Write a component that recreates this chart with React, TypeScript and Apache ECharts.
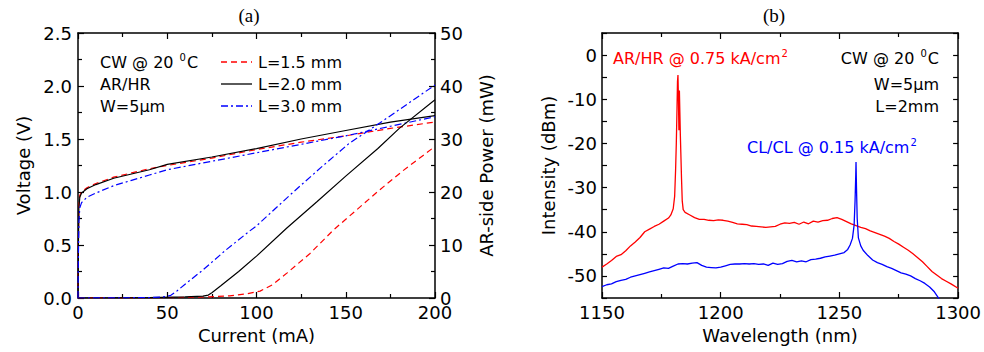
import React, { useEffect, useRef } from 'react';
import * as echarts from 'echarts';

// ---------- Panel (a): L-I-V ----------
const currentV = [0, 0.2, 0.5, 1, 2, 5, 10, 20, 30, 40, 50, 75, 100, 125, 150, 175, 200];
const voltL15 = [0, 0.5, 0.88, 0.97, 1.0, 1.04, 1.08, 1.14, 1.18, 1.22, 1.25, 1.32, 1.4, 1.47, 1.53, 1.6, 1.66];
const voltL20 = [0, 0.45, 0.85, 0.95, 0.99, 1.03, 1.07, 1.13, 1.17, 1.21, 1.26, 1.33, 1.41, 1.5, 1.58, 1.66, 1.72];
const voltL30 = [0, 0.35, 0.72, 0.85, 0.9, 0.95, 0.99, 1.06, 1.11, 1.16, 1.21, 1.29, 1.37, 1.45, 1.53, 1.62, 1.71];

const currentP15 = [0, 50, 73, 85, 95, 102, 109, 117, 130, 143, 156, 169, 182, 200];
const powerL15 = [0, 0.05, 0.2, 0.4, 0.8, 1.3, 2.5, 4.7, 8.4, 12.8, 16.6, 20.4, 24.0, 28.6];
const currentP20 = [0, 20, 40, 60, 70, 73, 75, 80, 90, 100, 117, 134, 150, 168, 180, 200];
const powerL20 = [0, 0.02, 0.08, 0.2, 0.35, 0.55, 1.0, 2.3, 5.0, 7.9, 13.2, 18.2, 23.0, 28.2, 32.0, 37.4];
const currentP30 = [0, 20, 40, 48, 52, 55, 60, 70, 83, 96, 100, 119, 136, 152, 169, 188, 200];
const powerL30 = [0, 0.02, 0.08, 0.2, 0.5, 1.2, 2.6, 5.3, 9.1, 12.6, 13.6, 19.5, 24.6, 29.2, 33.0, 37.4, 40.2];

const legendNames = ['L=1.5 mm', 'L=2.0 mm', 'L=3.0 mm'];

// ---------- Panel (b): spectra ----------
const wlARHR = [1150, 1152, 1154, 1156, 1158, 1160, 1162, 1164, 1166, 1168, 1170, 1172, 1174, 1176, 1178, 1179, 1180, 1180.6, 1181, 1181.3, 1181.6, 1181.8, 1182.0, 1182.2, 1182.4, 1182.6, 1182.8, 1183.0, 1183.2, 1183.5, 1183.8, 1184.2, 1185, 1187, 1189, 1191, 1193, 1195, 1197, 1199, 1201, 1203, 1205, 1207, 1209, 1211, 1213, 1215, 1217, 1219, 1221, 1223, 1225, 1227, 1229, 1231, 1233, 1235, 1237, 1239, 1241, 1243, 1245, 1247, 1249, 1251, 1253, 1255, 1257, 1259, 1261, 1263, 1265, 1267, 1269, 1271, 1273, 1275, 1277, 1279, 1281, 1283, 1285, 1287, 1289, 1291, 1293, 1295, 1297, 1300];
const dbmARHR = [-48.0, -47.3, -46.5, -45.6, -45.2, -44.3, -43.2, -42.3, -41.3, -40.0, -39.4, -38.8, -38.3, -37.6, -36.9, -36.2, -34.8, -32.0, -26, -20, -12, -6, -4.5, -10, -17, -8, -13, -18, -22, -28, -33, -35, -35.6, -36.2, -36.8, -37.2, -37.2, -37.4, -37.5, -37.3, -37.4, -37.6, -37.9, -38.2, -38.3, -38.4, -38.7, -38.8, -38.9, -39.0, -38.9, -38.8, -38.3, -38.0, -38.1, -37.9, -38.3, -37.8, -38.2, -37.6, -37.8, -37.5, -37.4, -37.0, -36.8, -37.2, -37.7, -38.2, -38.6, -39.0, -39.3, -39.8, -40.2, -40.6, -41.0, -41.5, -42.2, -42.8, -43.5, -44.2, -45.0, -45.9, -46.8, -47.9, -49.0, -49.8, -50.6, -51.2, -51.8, -52.8];

const wlCLCL = [1150, 1152, 1154, 1156, 1158, 1160, 1162, 1164, 1166, 1168, 1170, 1172, 1174, 1176, 1178, 1180, 1182, 1184, 1186, 1188, 1190, 1192, 1194, 1196, 1198, 1200, 1202, 1204, 1206, 1208, 1210, 1212, 1214, 1216, 1218, 1220, 1222, 1224, 1226, 1228, 1230, 1232, 1234, 1236, 1238, 1240, 1242, 1244, 1246, 1248, 1250, 1252, 1253.5, 1254.5, 1255.5, 1256.2, 1256.6, 1256.9, 1257.0, 1257.2, 1257.5, 1258, 1259, 1260, 1262, 1264, 1266, 1268, 1270, 1272, 1274, 1276, 1278, 1280, 1282, 1284, 1286, 1288, 1290, 1292];
const dbmCLCL = [-52.4, -52.0, -51.8, -51.3, -51.0, -50.8, -50.3, -50.0, -49.7, -49.4, -49.1, -48.8, -48.5, -48.2, -48.3, -47.8, -47.3, -47.2, -47.3, -47.1, -47.0, -47.6, -48.0, -48.1, -48.2, -48.0, -47.7, -47.4, -47.3, -47.3, -47.2, -47.3, -47.2, -47.4, -47.3, -47.6, -47.1, -47.4, -47.2, -46.7, -46.5, -46.8, -46.6, -46.8, -46.3, -46.2, -46.0, -45.7, -45.5, -45.3, -45.0, -44.7, -44.0, -43.0, -41.5, -38.5, -33, -27, -24.2, -30, -37, -41.4, -43.2, -44.2, -45.4, -46.4, -47.0, -47.4, -47.9, -48.3, -48.8, -49.3, -49.6, -50.0, -50.6, -51.1, -51.7, -52.5, -53.6, -55.2];

const FONT = 'DejaVu Sans, Liberation Sans, Arial, sans-serif';
const SERIF = 'Liberation Serif, Times New Roman, serif';

const zip = (xs: number[], ys: number[]) => xs.map((x, i) => [x, ys[i]]);

const axisLineStyle = { show: true, onZero: false, lineStyle: { color: '#000', width: 1.5 } };
const tickStyle = (len: number) => ({ show: true, inside: true, length: len, lineStyle: { color: '#000', width: 1.2 } });
const minorStyle = { show: true, splitNumber: 2, length: 4, lineStyle: { color: '#000', width: 1.2 } };
const labelStyle = { fontSize: 18, color: '#000', fontFamily: FONT, margin: 5, lineHeight: 14 };
const nameStyle = { fontSize: 18, color: '#000', fontFamily: FONT };

function buildOption() {
  const xAxis: any[] = [
    {
      gridIndex: 0, type: 'value', min: 0, max: 200, interval: 50, position: 'bottom',
      axisLine: axisLineStyle, axisTick: tickStyle(6), minorTick: minorStyle,
      axisLabel: { ...labelStyle, margin: 7, formatter: (v: number) => String(v), showMinLabel: true, showMaxLabel: true },
      splitLine: { show: false }, minorSplitLine: { show: false },
      name: 'Current (mA)', nameLocation: 'middle', nameGap: 28, nameTextStyle: nameStyle,
    },
    {
      gridIndex: 0, type: 'value', min: 0, max: 200, interval: 50, position: 'top',
      axisLine: axisLineStyle, axisTick: tickStyle(6), minorTick: minorStyle,
      axisLabel: { show: false }, splitLine: { show: false },
    },
    {
      gridIndex: 1, type: 'value', min: 1150, max: 1300, interval: 50, position: 'bottom',
      axisLine: axisLineStyle, axisTick: tickStyle(6), minorTick: minorStyle,
      axisLabel: { ...labelStyle, margin: 7, formatter: (v: number) => String(v), showMinLabel: true, showMaxLabel: true },
      splitLine: { show: false },
      name: 'Wavelength (nm)', nameLocation: 'middle', nameGap: 28, nameTextStyle: nameStyle,
    },
    {
      gridIndex: 1, type: 'value', min: 1150, max: 1300, interval: 50, position: 'top',
      axisLine: axisLineStyle, axisTick: tickStyle(6), minorTick: minorStyle,
      axisLabel: { show: false }, splitLine: { show: false },
    },
  ];
  const yAxis: any[] = [
    {
      gridIndex: 0, type: 'value', min: 0, max: 2.5, interval: 0.5, position: 'left',
      axisLine: axisLineStyle, axisTick: tickStyle(6), minorTick: minorStyle,
      axisLabel: { ...labelStyle, margin: 6, formatter: (v: number) => v.toFixed(1), showMinLabel: true, showMaxLabel: true },
      splitLine: { show: false },
      name: 'Voltage (V)', nameLocation: 'middle', nameGap: 46, nameRotate: 90, nameTextStyle: nameStyle,
    },
    {
      gridIndex: 0, type: 'value', min: 0, max: 50, interval: 10, position: 'right',
      axisLine: axisLineStyle, axisTick: tickStyle(6), minorTick: minorStyle,
      axisLabel: { ...labelStyle, formatter: (v: number) => String(v), showMinLabel: true, showMaxLabel: true },
      splitLine: { show: false },
      name: 'AR-side Power (mW)', nameLocation: 'middle', nameGap: 42, nameRotate: 90, nameTextStyle: nameStyle,
    },
    {
      gridIndex: 1, type: 'value', min: -55, max: 5, interval: 5, position: 'left',
      axisLine: axisLineStyle, axisTick: tickStyle(5),
      axisLabel: { ...labelStyle, formatter: (v: number) => (Math.round(v) % 10 === 0 ? String(Math.round(v)) : '') },
      splitLine: { show: false },
      name: 'Intensity (dBm)', nameLocation: 'middle', nameGap: 45, nameRotate: 90, nameTextStyle: nameStyle,
    },
    {
      gridIndex: 1, type: 'value', min: -55, max: 5, interval: 5, position: 'right',
      axisLine: axisLineStyle, axisTick: tickStyle(5),
      axisLabel: { show: false }, splitLine: { show: false },
    },
  ];

  const lineSeries = (name: string, data: number[][], xi: number, yi: number, color: string, type: any, width = 1.2) => ({
    name, type: 'line', xAxisIndex: xi, yAxisIndex: yi, data, showSymbol: false, symbol: 'none',
    lineStyle: { color, width, type }, clip: true, z: 3,
  });

  const dashRed = [6, 4];
  const dashDotBlue = [7, 3, 2, 3];

  const series: any[] = [
    lineSeries(legendNames[0] + ' V', zip(currentV, voltL15), 0, 0, '#ff0000', dashRed),
    lineSeries(legendNames[1] + ' V', zip(currentV, voltL20), 0, 0, '#000000', 'solid'),
    lineSeries(legendNames[2] + ' V', zip(currentV, voltL30), 0, 0, '#0000ff', dashDotBlue),
    lineSeries(legendNames[0] + ' P', zip(currentP15, powerL15), 0, 1, '#ff0000', dashRed),
    lineSeries(legendNames[1] + ' P', zip(currentP20, powerL20), 0, 1, '#000000', 'solid'),
    lineSeries(legendNames[2] + ' P', zip(currentP30, powerL30), 0, 1, '#0000ff', dashDotBlue),
    lineSeries('AR/HR', zip(wlARHR, dbmARHR), 2, 2, '#ff0000', 'solid', 1.3),
    lineSeries('CL/CL', zip(wlCLCL, dbmCLCL), 2, 2, '#0000ff', 'solid', 1.3),
  ];

  const txt = (x: number, y: number, text: string, color = '#000', align = 'left', size = 16, family = FONT) => ({
    type: 'text', x, y, z: 10,
    style: {
      text, fill: color, fontSize: size, fontFamily: family, align, verticalAlign: 'middle',
      rich: {
        sup: { fontSize: 10, fontFamily: FONT, fill: color, verticalAlign: 'top', padding: [0, 1, 9, 1] },
      },
    },
  });

  const legendLine = (y: number, color: string, dash: any) => ({
    type: 'line', z: 10,
    shape: { x1: 221, y1: y, x2: 252, y2: y },
    style: { stroke: color, lineWidth: 1.3, lineDash: dash },
  });

  const graphic: any[] = [
    txt(249, 15, '(a)', '#000', 'center', 19, SERIF),
    txt(774, 15, '(b)', '#000', 'center', 19, SERIF),
    // panel (a) annotations
    txt(100, 62, 'CW @ 20 {sup|0}C'),
    txt(100, 84, 'AR/HR'),
    txt(100, 106, 'W=5μm'),
    legendLine(62, '#ff0000', dashRed),
    legendLine(84, '#000000', null),
    legendLine(106, '#0000ff', dashDotBlue),
    txt(258, 62, legendNames[0]),
    txt(258, 84, legendNames[1]),
    txt(258, 106, legendNames[2]),
    // panel (b) annotations
    txt(613, 58, 'AR/HR @ 0.75 kA/cm{sup|2}', '#ff0000'),
    txt(939, 58, 'CW @ 20 {sup|0}C', '#000', 'right'),
    txt(939, 84, 'W=5μm', '#000', 'right'),
    txt(939, 106, 'L=2mm', '#000', 'right'),
    txt(747, 147, 'CL/CL @ 0.15 kA/cm{sup|2}', '#0000ff'),
  ];

  return {
    animation: false,
    backgroundColor: '#ffffff',
    textStyle: { fontFamily: FONT },
    grid: [
      { left: 78, top: 33, width: 357, height: 265, containLabel: false },
      { left: 602, top: 33, width: 358, height: 265, containLabel: false },
    ],
    xAxis,
    yAxis,
    series,
    graphic,
  };
}

export default function App() {
  const ref = useRef<HTMLDivElement>(null);
  useEffect(() => {
    if (!ref.current) return;
    const chart = echarts.init(ref.current, null, { renderer: 'svg' });
    chart.setOption(buildOption() as any);
    return () => chart.dispose();
  }, []);
  return (
    <div
      ref={ref}
      style={{ position: 'absolute', left: 0, top: 0, width: 984, height: 352, background: '#fff' }}
    />
  );
}
